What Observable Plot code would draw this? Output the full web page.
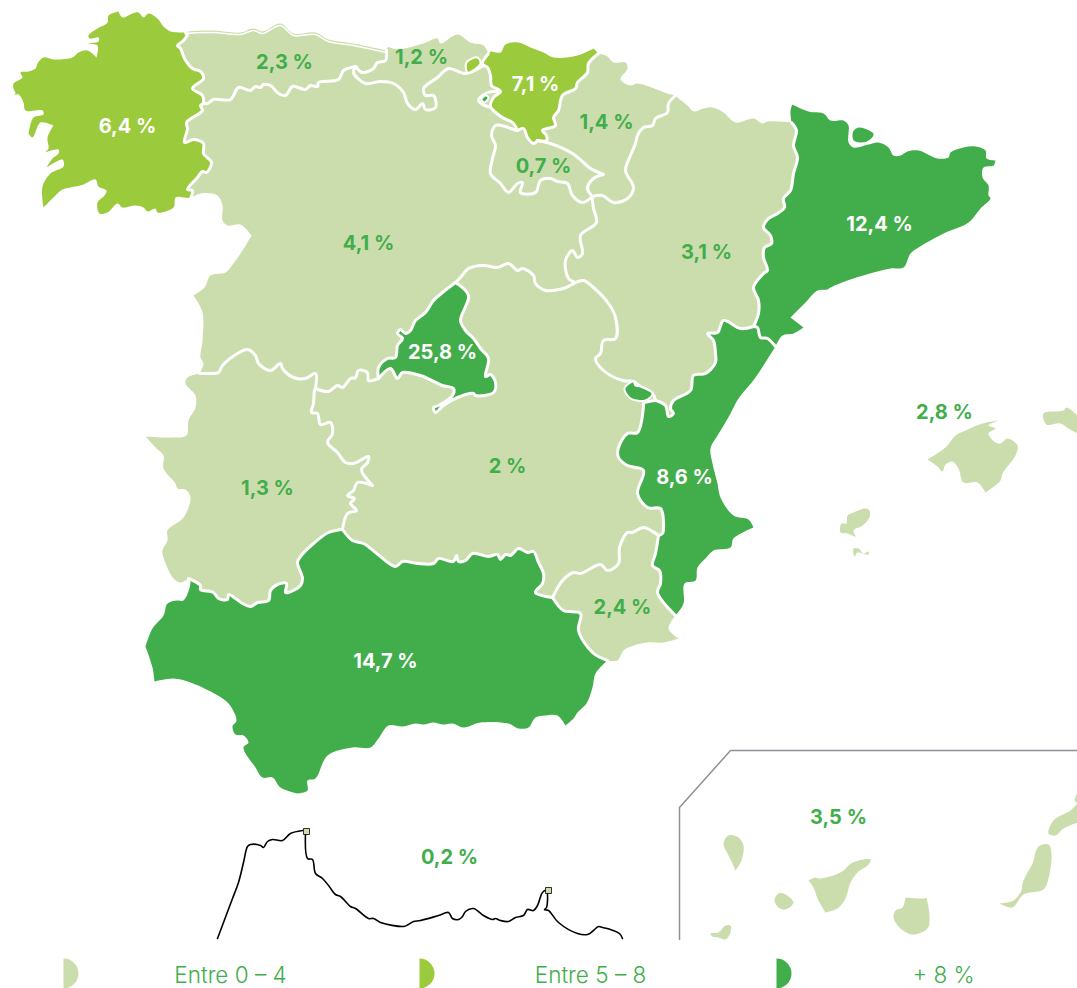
<!DOCTYPE html>
<html><head><meta charset="utf-8">
<style>html,body{margin:0;padding:0;background:#fff;overflow:hidden}svg{display:block}</style>
<script src="https://cdn.jsdelivr.net/npm/d3@7"></script>
<script src="https://cdn.jsdelivr.net/npm/@observablehq/plot@0.6"></script>
</head><body><div id="chart"></div>
<script>
const levels=["Entre 0 – 4","Entre 5 – 8","+ 8 %"];
const levelColors=["#cbddac","#9bca3d","#42ad4b"];
const labelText="#42ad4b";

const galCoast=[[185,32],[170,31],[163,26],[157,18],[148,13],[143,17],[138,12],[132,13],[122,17],[118,11],[118,11],[108,15],[107,22],[97,28],[88,35],[89,38],[98,37],[98,41],[88,43],[97,45],[96,57],[96,57],[87,50],[78,52],[72,57],[53,59],[43,57],[37,63],[35,68],[28,71],[20,72],[22,77],[13,83],[13,88],[15,93],[11,96],[11,96],[18,94],[23,102],[25,110],[42,110],[43,114],[33,117],[28,133],[28,133],[32,137],[40,122],[53,125],[53,125],[47,137],[48,148],[44,152],[44,152],[58,149],[58,153],[52,158],[46,167],[46,167],[62,159],[63,166],[50,173],[42,186],[43,207],[43,207],[53,197],[62,189],[70,187],[83,184],[95,179],[98,186],[106,190],[104,195],[97,202],[99,213],[107,212],[117,203],[122,207],[135,205],[143,207],[147,211],[155,208],[157,212],[173,207],[175,197],[183,197],[190,198]];
const galCyl=[[190,198],[192,190],[187,189],[197,177],[202,171],[206,172],[211,162],[203,153],[203,143],[193,139],[184,142],[187,128],[186,122],[202,110],[200,105],[203,103]];
const galAst=[[203,103],[202,95],[192,88],[203,78],[200,71],[192,68],[184,58],[180,48],[177,45],[183,40],[187,33],[185,32]];
const astCoast=[[185,32],[188,31],[213,30],[240,32],[253,28],[262,31],[280,23],[293,33],[315,32],[328,39],[353,43],[386,50]];
const astCyl=[[203,103],[207,103],[213,99],[230,99],[238,87],[250,90],[255,86],[260,87],[263,84],[270,85],[278,93],[285,95],[292,86],[305,89],[310,85],[317,86],[318,82],[338,79],[343,70],[355,66]];
const astCan=[[355,66],[362,72],[373,68],[377,62],[385,60],[386,50]];
const canCoast=[[386,50],[387,47],[397,49],[423,43],[437,38],[440,43],[457,34],[470,42],[483,45],[488,53]];
const canCyl=[[355,66],[353,72],[365,83],[380,81],[393,83],[403,92],[407,103],[415,109],[422,103],[425,109],[435,107],[433,95],[425,95],[423,88],[437,77],[448,68],[465,73],[483,65]];
const canBas=[[483,65],[482,62],[488,53]];
const basCoast=[[488,53],[490,51],[500,52],[505,44],[518,42],[530,47],[543,52],[553,57],[577,55],[593,48],[593,48],[598,53]];
const basNav=[[537,140],[546,140],[546,135],[542,130],[555,125],[553,117],[558,110],[562,95],[575,88],[577,82],[587,72],[588,63],[598,53]];
const basCyl=[[483,65],[487,67],[490,75],[491,85],[500,91],[493,97],[490,106],[502,117],[512,122],[517,130]];
const basRio=[[517,130],[523,128],[527,137],[533,143],[537,140]];
const rioNav=[[537,140],[550,143],[572,153],[583,162],[590,168],[603,174],[603,174],[593,178],[587,188],[592,196]];
const rioCyl=[[592,196],[582,202],[572,195],[567,183],[557,181],[550,178],[540,180],[535,192],[520,192],[522,182],[517,183],[508,192],[500,183],[490,173],[492,158],[495,145],[491,135],[495,125],[505,126],[510,128],[517,130]];
const navCoast=[[598,53],[607,56],[613,62],[625,62],[627,68],[620,79],[630,85],[637,83],[667,93],[675,95]];
const navAra=[[675,95],[668,103],[667,112],[655,118],[652,125],[643,127],[637,135],[635,143],[630,155],[625,170],[633,187],[627,198],[613,202],[602,195],[592,196]];
const araNorth=[[675,95],[677,97],[687,105],[693,111],[703,108],[712,107],[723,112],[735,122],[753,118],[762,123],[767,121],[791,122]];
const araCat=[[753,326],[758,313],[758,300],[753,287],[763,273],[767,270],[763,257],[764,247],[771,243],[770,235],[763,227],[768,218],[777,213],[784,207],[783,198],[790,190],[793,173],[797,157],[793,145],[796,130],[791,122]];
const catCoast=[[791,122],[790,110],[792,104],[792,104],[808,111],[823,113],[830,120],[843,120],[848,125],[848,133],[848,142],[853,147],[868,144],[878,142],[888,147],[893,155],[900,155],[907,151],[918,150],[937,158],[948,157],[950,152],[963,147],[975,146],[985,150],[986,158],[995,160],[995,160],[993,165],[983,167],[982,177],[988,185],[988,195],[990,198],[980,208],[968,222],[943,233],[918,247],[910,253],[903,267],[890,268],[853,278],[830,287],[827,289],[817,290],[805,302],[795,312],[790,317],[790,317],[803,327],[803,327],[793,333],[782,335],[775,346]];
const catVal=[[775,346],[767,338],[760,337],[757,327],[753,326]];
const araVal=[[753,326],[740,328],[723,320],[717,332],[707,333],[713,340],[715,353],[715,362],[705,373],[693,375],[690,390],[673,400],[670,408],[673,413],[668,416],[665,405],[655,400]];
const valCoast=[[675,615],[683,603],[684,583],[695,580],[697,567],[705,558],[713,550],[730,547],[733,538],[753,527],[753,527],[748,519],[733,515],[720,497],[717,483],[712,463],[710,448],[717,435],[722,427],[730,413],[738,398],[755,377],[775,346]];
const clmVal=[[655,400],[643,403],[643,406],[637,432],[627,433],[618,447],[618,457],[627,465],[643,470],[637,493],[647,507],[660,508],[663,522],[662,533],[658,535]];
const murVal=[[658,535],[655,553],[652,565],[659,570],[660,583],[657,592],[675,615]];
const murClm=[[552,597],[562,580],[573,572],[580,573],[600,564],[607,570],[618,563],[619,547],[627,532],[632,532],[643,527],[658,535]];
const murCoast=[[675,615],[668,628],[678,638],[678,638],[663,642],[647,642],[633,645],[623,650],[617,660],[607,660]];
const murAnd=[[552,597],[563,610],[580,613],[578,630],[592,652],[607,660]];
const andCoast=[[607,660],[595,673],[592,687],[586,703],[577,712],[573,718],[565,725],[565,725],[557,715],[545,715],[535,717],[528,727],[518,728],[508,723],[480,722],[463,727],[452,723],[442,724],[433,722],[423,724],[415,723],[402,726],[388,725],[378,738],[370,747],[352,747],[327,755],[315,778],[307,780],[307,790],[297,793],[297,793],[280,787],[272,777],[262,777],[255,767],[243,747],[248,742],[243,735],[235,734],[232,726],[236,720],[228,703],[208,690],[190,682],[173,678],[154,681],[154,681],[152,667],[145,646],[145,646],[152,628],[163,615],[167,603],[177,600],[183,600],[190,582]];
const extAnd=[[188,578],[200,585],[200,589],[213,592],[218,598],[227,599],[228,594],[235,598],[242,603],[250,606],[257,602],[268,600],[270,590],[277,584],[286,583],[285,592],[288,592],[300,585],[302,578],[297,562],[300,556],[313,543],[328,532],[342,529]];
const clmAnd=[[342,529],[352,540],[363,543],[375,552],[395,566],[402,561],[417,563],[433,563],[438,558],[453,561],[456,555],[458,561],[465,560],[472,553],[488,556],[497,554],[500,559],[505,554],[510,555],[518,548],[527,552],[533,551],[538,562],[543,573],[542,583],[535,592],[552,597]];
const extCoast=[[199,373],[187,377],[185,383],[195,395],[195,407],[188,420],[186,435],[172,437],[162,437],[145,436],[145,436],[155,447],[163,455],[163,468],[175,483],[177,488],[185,489],[190,497],[183,517],[167,530],[167,540],[162,550],[163,557],[173,578],[180,582],[188,578]];
const extClm=[[315,388],[314,390],[313,403],[311,412],[317,413],[320,424],[330,422],[332,433],[327,442],[337,452],[345,462],[353,463],[368,456],[367,462],[361,469],[372,485],[372,485],[357,482],[353,490],[347,495],[354,498],[350,503],[356,510],[347,513],[342,529]];
const cylExt=[[315,388],[315,373],[305,378],[293,377],[282,368],[280,363],[270,370],[258,363],[255,355],[247,349],[237,353],[222,365],[218,372],[207,373],[199,373]];
const cylWest=[[190,198],[200,193],[217,195],[222,205],[222,220],[227,225],[240,224],[251,235],[251,235],[242,250],[233,263],[225,272],[210,275],[204,287],[193,295],[193,295],[202,312],[202,340],[200,357],[203,363],[199,373]];
const cylAra=[[592,196],[592,200],[593,208],[596,222],[580,235],[582,253],[577,257],[572,250],[565,260],[568,278],[575,282]];
const araClm=[[575,282],[583,280],[593,287],[608,303],[615,317],[615,338],[603,340],[600,353],[595,358],[603,370],[622,380],[633,381],[640,386],[652,393],[655,400]];
const cylClmE=[[575,282],[563,288],[552,290],[545,290],[535,283],[533,275],[522,268],[517,270],[508,263],[497,267],[483,265],[468,268],[460,277],[455,282]];
const madCyl=[[455,282],[442,292],[433,300],[425,312],[415,320],[410,330],[405,333],[400,329],[397,333],[402,338],[397,345],[395,357],[387,358],[378,367],[378,378]];
const madClm=[[378,378],[390,368],[397,378],[402,372],[420,375],[442,385],[453,388],[452,395],[438,405],[433,407],[435,412],[443,405],[457,397],[473,393],[475,395],[493,392],[495,382],[490,374],[485,376],[488,358],[480,348],[473,338],[465,330],[460,320],[468,295],[455,282]];
const cylClmW=[[378,378],[368,380],[367,372],[358,370],[355,377],[350,378],[342,387],[337,385],[328,391],[315,388]];

const trucios=[[466,62],[477,57],[480,63],[467,72]];
const trevino=[[481,99],[485,95],[488,97],[484,102]];
const trevinoRing=[[497,91],[487,92],[478,100],[487,106],[490,106]];
const ademuz=[[624,388],[633,381],[635,385],[640,386],[652,393],[645,400],[630,398]];
const blob=[[852,130],[858,126],[867,128],[874,133],[870,140],[860,143],[852,140]];
const mallorca=[[927,459],[927,459],[945,447],[955,435],[965,430],[982,423],[998,420],[998,420],[988,425],[995,428],[988,433],[995,442],[1000,443],[1007,438],[1017,445],[1015,455],[1002,473],[1000,480],[985,492],[985,492],[977,482],[963,482],[958,468],[952,461],[945,464],[942,471],[937,466]];
const menorca=[[1043,413],[1063,410],[1066,407],[1077,415],[1077,415],[1077,433],[1077,433],[1068,428],[1060,423],[1046,424]];
const ibiza=[[840,532],[841,523],[846,523],[847,515],[853,512],[865,508],[869,510],[869,517],[862,525],[853,530],[855,536],[847,533]];
const formentera=[[853,548],[858,548],[863,553],[868,551],[868,554],[862,553],[857,552],[854,556]];
const laPalma=[[723,843],[728,835],[738,837],[743,845],[741,860],[735,870],[735,870],[732,863],[727,853]];
const tenerife=[[808,880],[808,880],[815,877],[818,878],[833,875],[843,870],[852,862],[870,859],[868,864],[857,872],[850,882],[845,898],[837,908],[825,912],[825,912],[817,898],[813,887]];
const gomera=[[778,893],[785,894],[793,902],[785,909],[778,907],[774,900]];
const hierro=[[710,933],[718,932],[725,925],[730,925],[730,932],[725,939],[718,937],[712,936]];
const granCanaria=[[905,897],[905,897],[923,898],[926,897],[926,897],[929,915],[927,928],[912,934],[900,928],[893,917],[895,910],[902,907]];
const fuerteventura=[[1038,846],[1048,844],[1051,853],[1048,878],[1043,889],[1023,894],[1012,907],[999,903],[999,903],[1013,900],[1021,890],[1022,883],[1027,872],[1032,863]];
const lanzarote=[[1048,833],[1053,820],[1070,810],[1077,803],[1077,803],[1077,822],[1077,822],[1063,828],[1055,835]];
const graciosa=[[1077,793],[1074,800],[1077,802]];
const canaryFrame=[[679,939],[679,807],[730,750],[1077,750]];
const ceuta=[[217,938],[232,898],[238,882],[243,862],[247,846],[250,844],[260,845],[263,847],[267,841],[272,839],[282,840],[290,833],[302,830]];
const melilla=[[305,833],[307,858],[312,859],[315,873],[322,878],[328,885],[335,894],[340,896],[350,906],[355,908],[368,918],[373,918],[380,922],[403,926],[408,924],[413,921],[420,920],[438,915],[448,912],[452,918],[458,919],[462,916],[465,911],[473,908],[483,915],[492,919],[495,918],[500,920],[508,921],[515,917],[523,915],[527,909],[533,910],[537,905],[542,892],[546,890],[546,907],[544,909],[548,910],[558,922],[577,933],[587,934],[593,930],[598,926],[602,927],[610,929],[619,933],[622,938]];
const plazas=[[306,831],[548,890]];

const labelNames=["6,4 %","2,3 %","1,2 %","7,1 %","1,4 %","0,7 %","4,1 %","3,1 %","12,4 %","25,8 %","1,3 %","2 %","8,6 %","2,4 %","14,7 %","2,8 %","0,2 %","3,5 %"];
const labelX=[127,284,421,535,606,543,368,706,879,442,267,507,684,622,385,944,449,838];
const labelY=[126,62,57,84,122,166,243,252,224,352,488,466,477,607,661,412,857,817];
const whiteLabels=new Set(["6,4 %","7,1 %","12,4 %","25,8 %","8,6 %","14,7 %"]);
const legendX=[63,419,776];
const legendTextX=[230,590,943];

const rev=a=>a.slice().reverse();
const [L,M,H]=levels;
const regions=[
 ["Galicia",M,[galCoast,galCyl,galAst]],
 ["Asturias",L,[astCoast,rev(astCan),rev(astCyl),galAst]],
 ["Cantabria",L,[canCoast,rev(canBas),rev(canCyl),astCan]],
 ["Euskadi",M,[basCoast,rev(basNav),rev(basRio),rev(basCyl),canBas]],
 ["Navarra",L,[navCoast,navAra,rev(rioNav),basNav]],
 ["Rioja",L,[basRio,rioNav,rioCyl]],
 ["Aragon",L,[araNorth,rev(araCat),araVal,rev(araClm),rev(cylAra),rev(navAra)]],
 ["Catalunya",H,[catCoast,catVal,araCat]],
 ["Valencia",H,[valCoast,catVal,araVal,clmVal,murVal]],
 ["Murcia",L,[murCoast,rev(murAnd),murClm,murVal]],
 ["Andalucia",H,[andCoast,extAnd,clmAnd,murAnd]],
 ["Extremadura",L,[extCoast,extAnd,rev(extClm),cylExt]],
 ["CLM",L,[cylClmE,rev(madClm),cylClmW,extClm,clmAnd,murClm,rev(clmVal),rev(araClm)]],
 ["CyL",L,[astCyl,canCyl,basCyl,rev(rioCyl),cylAra,cylClmE,madCyl,cylClmW,cylExt,rev(cylWest),galCyl]],
 ["Madrid",H,[madCyl,madClm]],
 ["Mallorca",L,[mallorca]],["Menorca",L,[menorca]],["Ibiza",L,[ibiza]],["Formentera",L,[formentera]],
 ["La Palma",L,[laPalma]],["Tenerife",L,[tenerife]],["Gomera",L,[gomera]],["Hierro",L,[hierro]],
 ["Gran Canaria",L,[granCanaria]],["Fuerteventura",L,[fuerteventura]],["Lanzarote",L,[lanzarote]],["Graciosa",L,[graciosa]]
];
const enclaves=[["Trucios",M,trucios],["Trevino",H,trevino],["Ademuz",H,ademuz],["Pirineo",H,blob]];
const borders=[galCyl,galAst,astCyl,astCan,canCyl,canBas,basNav,basCyl,basRio,rioNav,rioCyl,navAra,araCat,catVal,araVal,clmVal,murVal,murClm,murAnd,extAnd,clmAnd,extClm,cylExt,cylAra,araClm,cylClmE,madCyl,madClm,cylClmW,trevinoRing];
const rows=(name,level,pts)=>pts.map(([x,y])=>({x,y,name,level}));
const fillRows=regions.flatMap(([n,l,parts])=>rows(n,l,parts.flat()));
const enclaveRows=enclaves.flatMap(([n,l,p])=>rows(n,l,p));
const borderRows=borders.flatMap((b,i)=>rows("b"+i,null,b));
const labelRows=labelNames.map((t,i)=>({t,x:labelX[i],y:labelY[i]}));
const legendRows=levels.map((t,i)=>({t,x:legendX[i],tx:legendTextX[i]}));
const halfDisc={draw(c,size){const r=Math.sqrt(size/Math.PI);c.moveTo(0,-r);c.arc(0,0,r,-Math.PI/2,Math.PI/2);c.closePath();}};
const font="Inter, Lato, sans-serif";

const chart=Plot.plot({
 width:1077,height:988,margin:0,
 x:{domain:[0,1077],range:[0,1077],axis:null},
 y:{domain:[0,988],range:[0,988],axis:null},
 color:{type:"ordinal",domain:levels,range:levelColors},
 marks:[
  Plot.line(fillRows,{x:"x",y:"y",z:"name",fill:"level",stroke:null,curve:"catmull-rom-closed"}),
  Plot.line(borderRows,{x:"x",y:"y",z:"name",stroke:"#fff",strokeWidth:3,strokeLinejoin:"round",curve:"catmull-rom"}),
  Plot.line(astCoast.map(([x,y])=>({x,y})),{x:"x",y:"y",stroke:"#fff",strokeWidth:1.5,dy:2,curve:"catmull-rom"}),
  Plot.line(enclaveRows,{x:"x",y:"y",z:"name",fill:"level",stroke:"#fff",strokeWidth:2,strokeLinejoin:"round",curve:"catmull-rom-closed"}),
  Plot.line(canaryFrame.map(([x,y])=>({x,y})),{x:"x",y:"y",stroke:"#8f8f98",strokeWidth:1.5}),
  Plot.line(ceuta.map(([x,y])=>({x,y})),{x:"x",y:"y",stroke:"#000",strokeWidth:1.6,curve:"catmull-rom"}),
  Plot.line(melilla.map(([x,y])=>({x,y})),{x:"x",y:"y",stroke:"#000",strokeWidth:1.6,curve:"catmull-rom"}),
  Plot.dot(plazas,{x:d=>d[0],y:d=>d[1],symbol:"square",r:3.4,fill:levelColors[0],stroke:"#000",strokeWidth:.8}),
  Plot.text(labelRows.filter(d=>!whiteLabels.has(d.t)),{x:"x",y:"y",text:"t",fill:labelText,fontSize:20,fontWeight:650,fontFamily:font}),
  Plot.text(labelRows.filter(d=>whiteLabels.has(d.t)),{x:"x",y:"y",text:"t",fill:"#fff",fontSize:20,fontWeight:650,fontFamily:font}),
  Plot.dot(legendRows,{x:"x",y:973,r:15,fill:"t",stroke:null,symbol:halfDisc}),
  Plot.text(legendRows,{x:"tx",y:975,text:"t",fill:labelText,fontSize:22.5,fontWeight:300,fontFamily:font})
 ]
});
document.getElementById("chart").append(chart);
</script></body></html>
